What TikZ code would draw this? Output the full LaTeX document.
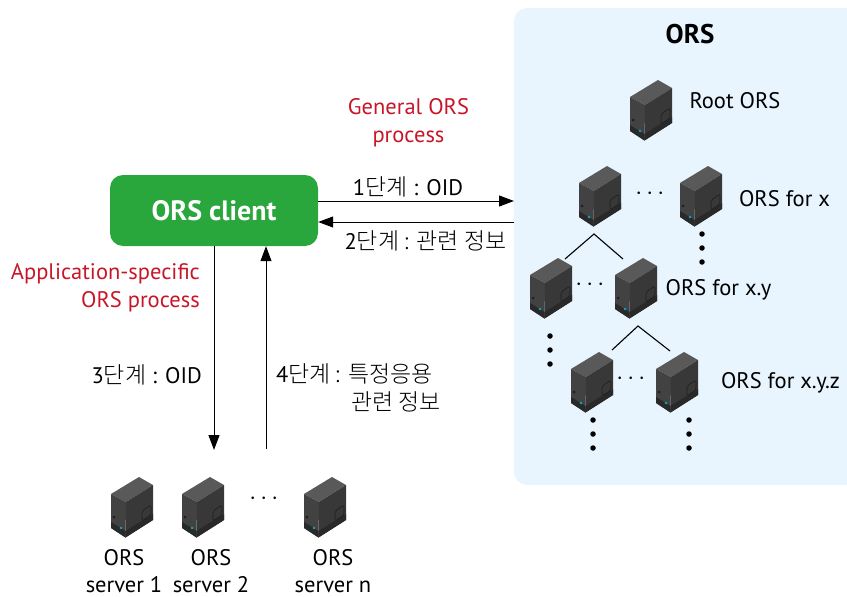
\documentclass[tikz,border=0pt]{standalone}
\usepackage{amsmath}
\usepackage{fontspec}
\setmainfont{PT Sans}
\newfontfamily\kor[Scale=1.02]{Noto Sans CJK KR Light}
\usetikzlibrary{arrows.meta}

\definecolor{panelblue}{RGB}{232,245,254}
\definecolor{clientgreen}{RGB}{42,167,60}
\definecolor{procred}{RGB}{200,22,40}

\tikzset{
  txt/.style={font=\fontsize{22.5}{28}\selectfont,inner sep=0pt,align=center},
  proc/.style={txt,text=procred},
  hdots/.style={txt,font=\fontsize{25}{28}\selectfont},
  flow/.style={line width=1pt,-{Triangle[length=15pt,width=11pt]}},
  branch/.style={line width=1.1pt},
  blackdot/.style={circle,fill=black,inner sep=0pt,minimum size=5.5pt},
  server/.style={inner sep=0pt,minimum width=44pt,minimum height=62pt,path picture={
    \begin{scope}[shift={(path picture bounding box.center)}]
      \fill[black!65] (-21,-13) -- (7,-30) -- (21,-22) -- (-6,-5) -- cycle;
      \fill[black!74] (-21,-13) -- (-6,-5) -- (-6.5,30.5) -- (-21,21) -- cycle;
      \fill[black!78] (-6,-5) -- (21,-22) -- (21,13) -- (-6.5,30.5) -- cycle;
      \fill[black!84] (-21,15) -- (-6.5,24) -- (-6.5,30.5) -- (-21,21) -- cycle;
      \fill[black!84] (-6.5,24) -- (21,7) -- (21,13) -- (-6.5,30.5) -- cycle;
      \draw[black!88,line width=.6pt,rounded corners=2pt] (10,4) -- (19,-2) -- (19,8) -- (10,14) -- cycle;
      \fill[black!88] (-18,10) circle (1.5);
      \fill[cyan!80!green] (-11,21) circle (1.3);
    \end{scope}}}
}

\begin{document}
\begin{tikzpicture}[x=1pt,y=-1pt]
  \clip (0,0) rectangle (847,597);

  \node[fill=panelblue,rounded corners=13pt,minimum width=353pt,minimum height=477pt,inner sep=0pt] (panel) at (690.5,246.5) {};
  \node[txt,font=\fontsize{27}{28}\bfseries\selectfont] (title) at (690,34) {ORS};

  % servers on the right
  \node[server] (root) at (651,110) {};
  \node[server,below of=root,node distance=86pt,xshift=-51pt] (x1) {};
  \node[server,right of=x1,node distance=101pt] (x2) {};
  \node[server,below of=x1,node distance=92pt,xshift=-49pt] (y1) {};
  \node[server,right of=y1,node distance=85pt] (y2) {};
  \node[server,below of=y1,node distance=94pt,xshift=41pt] (z1) {};
  \node[server,right of=z1,node distance=85pt] (z2) {};

  \node[txt] (lroot) at (735,100.5) {Root ORS};
  \node[txt] (lx) at (784.5,198.5) {ORS for x};
  \node[txt] (ly) at (718.5,290) {ORS for x.y};
  \node[txt] (lz) at (780.5,382.5) {ORS for x.y.z};

  \node[hdots] (xdots) at (652,194) {$\cdots$};
  \node[hdots] (ydots) at (592,285) {$\cdots$};
  \node[hdots] (zdots) at (633,379) {$\cdots$};
  \foreach \xx/\yy in {702/234,550/336,593/420,689/420}
    \foreach \dd in {0,14,28}
      \node[blackdot] (d\xx-\dd) at (\xx,\yy+\dd) {};

  \coordinate (xa) at (594,234);
  \coordinate (xl) at (565,259);
  \coordinate (xr) at (623,259);
  \coordinate (ya) at (638,326);
  \coordinate (yl) at (612,350);
  \coordinate (yr) at (670,351);
  \draw[branch] (xl) -- (xa) -- (xr);
  \draw[branch] (yl) -- (ya) -- (yr);

  % client and its arrows
  \node[fill=clientgreen,rounded corners=13pt,minimum width=208pt,minimum height=71pt,inner sep=0pt,text=white,font=\fontsize{28}{28}\bfseries\selectfont] (client) at (214,210.5) {ORS client};

  \coordinate (in1) at (514,201);
  \coordinate (in2) at (514,222);
  \coordinate (down) at (214,450);
  \coordinate (up) at (266,449);
  \draw[flow] (client.east |- in1) -- (in1);
  \draw[flow] (in2) -- (client.east |- in2);
  \draw[flow] (client.south -| down) -- (down);
  \draw[flow] (up) -- (client.south -| up);

  \node[proc] (general) at (408.5,123) {General ORS\\process};
  \node[proc,anchor=east] (specific) at (200,288) {\begin{tabular}{@{}r@{}}Application-specific\\ORS process\end{tabular}};

  \node[txt] (s1) at (408,187) {1{\kor 단계} : OID};
  \node[txt] (s2) at (425.5,241) {2{\kor 단계 : 관련 정보}};
  \node[txt,anchor=east] (s3) at (202,375) {3{\kor 단계} : OID};
  \node[txt,anchor=west] (s4) at (276,374) {4{\kor 단계 : 특정응용}};
  \node[txt,anchor=west] (s4b) at (351,402) {{\kor 관련 정보}};

  % servers at the bottom
  \node[server] (srv1) at (132,507) {};
  \node[server,right of=srv1,node distance=71pt] (srv2) {};
  \node[server,right of=srv2,node distance=122pt] (srvn) {};
  \node[hdots] (bdots) at (266,499) {$\cdots$};

  \node[txt,below of=srv1,node distance=64.5pt,xshift=-8pt] (ls1) {ORS\\[-1pt]server 1};
  \node[txt,below of=srv2,node distance=64.5pt,xshift=8pt] (ls2) {ORS\\[-1pt]server 2};
  \node[txt,below of=srvn,node distance=64.5pt,xshift=8pt] (lsn) {ORS\\[-1pt]server n};
\end{tikzpicture}
\end{document}
